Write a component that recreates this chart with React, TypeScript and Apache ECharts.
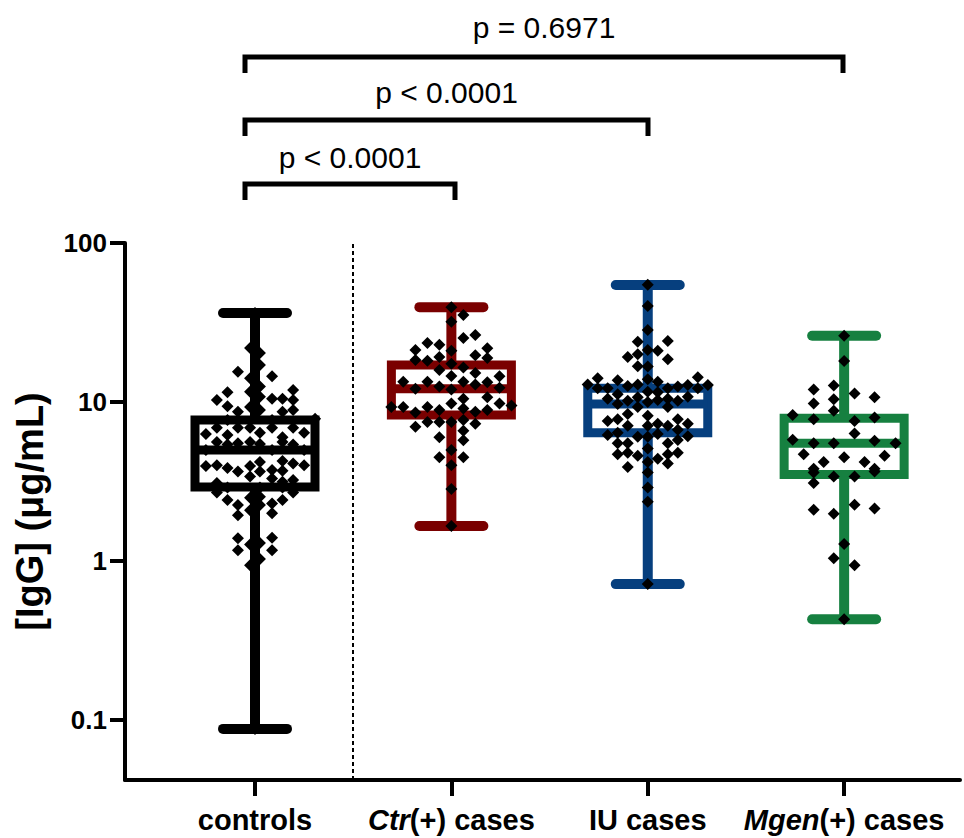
import React, { useEffect, useRef } from "react";
import * as echarts from "echarts";

// ---------- data ----------
const categoryItalic = ["", "Ctr", "", "Mgen"];
const categoryRest = ["controls", "(+) cases", "IU cases", "(+) cases"];
const categoryPositions = [1, 2, 3, 4];
const boxColors = ["#000000", "#7a0000", "#063f7e", "#168040"];

// [min, q1, median, q3, max] in µg/mL
const controlsBox = [0.088, 2.92, 5.0, 7.7, 36.3];
const ctrBox = [1.66, 8.3, 12.1, 17.1, 39.5];
const iuBox = [0.716, 6.4, 9.7, 12.2, 54.5];
const mgenBox = [0.43, 3.5, 5.5, 7.9, 26.1];

// individual points: [value (µg/mL), horizontal jitter (category units)]
const controlsPoints = [
  [21.9, -0.025], [20.3, 0.025], [17.1, 0.025], [14.1, -0.025], [12.5, 0.025], [11.6, -0.025],
  [10.8, 0.025], [9.3, -0.025], [8.9, 0.025], [15.5, -0.087], [14.5, 0.087], [11.5, -0.14],
  [11.9, 0.194], [10.3, -0.194], [10.5, 0.087], [10.5, 0.14], [10.3, 0.194], [9.4, -0.14],
  [8.7, -0.087], [8.7, 0.14], [8.9, 0.194], [7.85, 0.306], [7.7, -0.14], [7.7, 0.087],
  [6.3, -0.25], [6.9, -0.194], [6.2, -0.14], [6.9, -0.087], [6.9, -0.025], [6.4, 0.025],
  [6.9, 0.087], [6.0, 0.14], [6.9, 0.194], [6.4, 0.25], [5.6, -0.194], [5.4, -0.14],
  [5.5, -0.087], [5.6, -0.025], [5.45, 0.025], [5.6, 0.14], [5.4, 0.194], [5.0, -0.25],
  [5.0, 0.087], [5.0, 0.25], [3.96, -0.25], [4.0, -0.194], [3.85, -0.14], [3.65, -0.087],
  [3.96, -0.025], [4.2, 0.025], [4.25, 0.14], [4.1, 0.194], [4.0, 0.25], [3.65, 0.025],
  [3.7, 0.14], [3.73, 0.087], [3.4, -0.025], [3.3, 0.087], [3.1, -0.194], [3.15, 0.14],
  [3.23, 0.194], [2.9, -0.14], [2.9, 0.025], [2.9, 0.14], [2.7, -0.194], [2.42, -0.14],
  [2.25, -0.087], [2.5, -0.025], [2.54, 0.025], [2.3, 0.087], [2.42, 0.14], [2.7, 0.194],
  [1.94, -0.087], [2.09, -0.025], [2.0, 0.087], [2.25, 0.025], [1.39, -0.087], [1.4, 0.087],
  [1.27, -0.025], [1.3, 0.025], [1.17, -0.087], [1.17, 0.087], [1.03, 0.025], [0.94, -0.025],
  [36.3, 0], [0.088, 0],
];

const ctrPoints = [
  [39.5, 0], [35.2, 0.061], [32, 0], [25.3, 0.061], [26.4, 0.122], [23.5, -0.122],
  [22.9, -0.061], [21.2, -0.183], [21.0, 0], [21.8, 0.183], [18.4, -0.183], [18.2, -0.122],
  [19.2, -0.061], [19.7, 0.122], [18.9, 0.183], [17.4, 0], [15.9, -0.061], [16.5, 0.061],
  [15.2, 0.122], [14.6, 0], [13.4, -0.245], [13.4, -0.122], [13.4, 0.061], [13.3, 0.183],
  [14.5, 0.245], [12.9, 0.122], [12.1, -0.183], [12.5, -0.061], [12.0, 0], [12.3, 0.245],
  [10.5, 0.061], [10.7, 0.183], [9.3, -0.306], [9.3, -0.245], [9.3, -0.122], [9.8, 0],
  [9.8, 0.245], [9.5, 0.306], [8.6, -0.183], [8.9, -0.061], [9.1, 0.061], [8.7, 0.122],
  [8.9, 0.183], [7.0, -0.183], [7.5, -0.122], [7.5, -0.061], [7.5, 0], [7.7, 0.061],
  [7.3, 0.122], [6.6, 0.061], [6.0, -0.061], [5.75, 0.061], [5.0, 0], [4.5, -0.061],
  [4.5, 0.061], [4.0, 0], [2.84, 0], [1.66, 0],
];

const iuPoints = [
  [54.6, 0], [40.2, 0], [28.4, 0], [23.9, -0.051], [24.2, 0.102], [19.2, -0.102],
  [20.0, -0.051], [21.2, 0], [21.0, 0.051], [18.6, 0.102], [16.8, -0.051], [16.7, 0],
  [14.1, -0.255], [12.9, -0.306], [13.7, -0.153], [13.9, 0], [13.4, 0.051], [14.3, 0.255],
  [12.2, -0.255], [12.2, -0.204], [12.6, -0.102], [12.9, -0.051], [11.6, 0], [11.5, 0.051],
  [12.2, 0.102], [12.5, 0.153], [12.8, 0.204], [12.2, 0.255], [12.8, 0.306], [10.5, -0.204],
  [11.2, -0.153], [10.7, -0.051], [10.5, 0.102], [10.8, 0.204], [9.7, -0.153], [10.2, -0.102],
  [9.3, -0.051], [10.0, 0], [10.3, 0.051], [10.2, 0.153], [9.3, 0.102], [8.4, -0.102],
  [8.2, 0], [7.6, -0.204], [7.8, -0.153], [7.8, 0.153], [7.3, 0.204], [7.3, 0.051],
  [7.1, -0.102], [7.1, 0], [7.1, 0.102], [6.2, -0.204], [6.4, -0.153], [6.05, -0.051],
  [6.3, 0.051], [6.7, 0.153], [6.1, 0.204], [6.05, 0], [5.5, -0.153], [5.5, -0.102],
  [5.5, 0.102], [5.77, 0.153], [5.1, 0], [4.7, -0.153], [4.8, -0.102], [4.6, -0.051],
  [4.4, 0.051], [4.7, 0.102], [4.8, 0.153], [3.9, -0.102], [4.1, 0.102], [4.2, 0],
  [3.6, 0], [2.9, 0], [2.36, 0], [0.716, 0],
];

const mgenPoints = [
  [26.1, 0], [18.1, 0], [12.0, -0.155], [12.7, -0.053], [11.3, 0.053], [10.7, 0.155],
  [9.8, -0.155], [10.4, -0.053], [8.8, -0.053], [8.3, -0.262], [7.8, -0.155], [7.6, 0.053],
  [8.0, 0.155], [6.35, 0.053], [5.8, -0.262], [5.5, -0.155], [5.5, -0.053], [5.7, 0.155],
  [5.5, 0.262], [4.7, -0.206], [4.2, -0.104], [4.5, 0], [4.2, 0.104], [4.6, 0.206],
  [3.8, -0.155], [3.8, 0.155], [3.6, -0.155], [3.4, -0.053], [3.4, 0.053], [3.65, 0.155],
  [3.1, -0.155], [2.26, 0.053], [2.1, -0.155], [2.14, 0.155], [1.98, -0.053], [1.28, 0],
  [1.04, -0.053], [0.94, 0.053], [0.43, 0],
];

const yTickValues = [0.1, 1, 10, 100];
const yTickLabels = ["0.1", "1", "10", "100"];
const pLabels = ["p < 0.0001", "p < 0.0001", "p = 0.6971"];

// ---------- helpers ----------
const boxes = [controlsBox, ctrBox, iuBox, mgenBox];
const pointGroups = [controlsPoints, ctrPoints, iuPoints, mgenPoints];
const FONT = 'Arial, "Liberation Sans", Helvetica, sans-serif';
const lg = (v: number) => Math.log10(v);

export default function App() {
  const ref = useRef<HTMLDivElement>(null);

  useEffect(() => {
    if (!ref.current) return;
    const chart = echarts.init(ref.current, undefined, { renderer: "svg" });

    const boxData = boxes.map((b, i) => [categoryPositions[i], ...b.map(lg)]);
    const scatterData: number[][] = [];
    pointGroups.forEach((pts, i) => {
      pts.forEach(([v, j]) => scatterData.push([categoryPositions[i] + j, lg(v)]));
    });

    const renderBox = (params: any, api: any) => {
      const idx = params.dataIndex;
      const color = boxColors[idx];
      const x = api.value(0);
      const yMin = api.coord([x, api.value(1)])[1];
      const yQ1 = api.coord([x, api.value(2)])[1];
      const yMed = api.coord([x, api.value(3)])[1];
      const yQ3 = api.coord([x, api.value(4)])[1];
      const yMax = api.coord([x, api.value(5)])[1];
      const cx = api.coord([x, api.value(3)])[0];
      const half = 60;
      const cap = 32;
      const ws = { stroke: color, lineWidth: 10, lineCap: "butt" };
      const cs = { stroke: color, lineWidth: 10, lineCap: "round" };
      const bs = { stroke: color, lineWidth: 9, fill: "none" };
      return {
        type: "group",
        children: [
          { type: "line", shape: { x1: cx, y1: yMax, x2: cx, y2: yQ3 }, style: ws },
          { type: "line", shape: { x1: cx, y1: yQ1, x2: cx, y2: yMin }, style: ws },
          { type: "line", shape: { x1: cx - cap, y1: yMax, x2: cx + cap, y2: yMax }, style: cs },
          { type: "line", shape: { x1: cx - cap, y1: yMin, x2: cx + cap, y2: yMin }, style: cs },
          { type: "rect", shape: { x: cx - half, y: yQ3, width: 2 * half, height: yQ1 - yQ3 }, style: bs },
          { type: "line", shape: { x1: cx - half, y1: yMed, x2: cx + half, y2: yMed }, style: { stroke: color, lineWidth: 9 } },
        ],
      };
    };

    const brackets = [
      { x1: 245, x2: 455, y: 184 },
      { x1: 245, x2: 648, y: 120 },
      { x1: 245, x2: 843, y: 57 },
    ];
    const textY = [157, 92, 27];

    const graphic: any[] = [];
    brackets.forEach((b, i) => {
      graphic.push({
        type: "polyline",
        shape: { points: [[b.x1, b.y + 16], [b.x1, b.y], [b.x2, b.y], [b.x2, b.y + 16]] },
        style: { stroke: "#000", lineWidth: 5, fill: null, lineJoin: "miter" },
        silent: true,
      });
      graphic.push({
        type: "text",
        x: (b.x1 + b.x2) / 2,
        y: textY[i],
        style: {
          text: pLabels[i],
          fontSize: 30,
          fontFamily: FONT,
          fill: "#000",
          align: "center",
          verticalAlign: "middle",
        },
        silent: true,
      });
    });

    const axisLine = { show: true, onZero: false, lineStyle: { color: "#000", width: 4 } };

    chart.setOption({
      animation: false,
      backgroundColor: "#fff",
      grid: { left: 125, right: 4, top: 243, bottom: 58, containLabel: false },
      xAxis: {
        type: "value",
        min: 0.338,
        max: 4.59,
        axisLine,
        splitLine: { show: false },
        axisTick: {
          show: true,
          customValues: categoryPositions,
          length: 16,
          lineStyle: { color: "#000", width: 4 },
        },
        axisLabel: {
          customValues: categoryPositions,
          margin: 25,
          formatter: (v: number) => {
            const i = categoryPositions.indexOf(Math.round(v));
            if (i < 0) return "";
            const it = categoryItalic[i];
            return (it ? `{i|${it}}` : "") + `{b|${categoryRest[i]}}`;
          },
          rich: {
            i: { fontSize: 29, fontWeight: "bold", fontStyle: "italic", fontFamily: FONT, color: "#000" },
            b: { fontSize: 29, fontWeight: "bold", fontFamily: FONT, color: "#000" },
          },
        },
      },
      yAxis: {
        type: "value",
        min: -1.377,
        max: 2,
        axisLine,
        splitLine: { show: false },
        axisTick: {
          show: true,
          customValues: yTickValues.map(lg),
          length: 15,
          lineStyle: { color: "#000", width: 4 },
        },
        axisLabel: {
          customValues: yTickValues.map(lg),
          margin: 18,
          fontSize: 26,
          fontWeight: "bold",
          fontFamily: FONT,
          color: "#000",
          formatter: (v: number) => {
            let best = 0;
            yTickValues.forEach((t, k) => {
              if (Math.abs(lg(t) - v) < Math.abs(lg(yTickValues[best]) - v)) best = k;
            });
            return yTickLabels[best];
          },
        },
        name: "[IgG] (μg/mL)",
        nameLocation: "middle",
        nameGap: 76,
        nameTextStyle: { fontSize: 38, fontWeight: "bold", fontFamily: FONT, color: "#000" },
      },
      series: [
        {
          type: "custom",
          renderItem: renderBox,
          data: boxData,
          encode: { x: 0, y: [1, 2, 3, 4, 5] },
          z: 2,
          silent: true,
          markLine: {
            silent: true,
            symbol: "none",
            label: { show: false },
            lineStyle: { color: "#000", width: 2, type: [4, 3] },
            data: [{ xAxis: 1.5 }],
          },
        },
        {
          type: "scatter",
          data: scatterData,
          symbol: "diamond",
          symbolSize: 12,
          itemStyle: { color: "#000", opacity: 1 },
          z: 3,
          silent: true,
        },
      ],
      graphic,
    });

    return () => chart.dispose();
  }, []);

  return (
    <div
      ref={ref}
      style={{ position: "fixed", left: 0, top: 0, width: 964, height: 838, background: "#fff" }}
    />
  );
}
